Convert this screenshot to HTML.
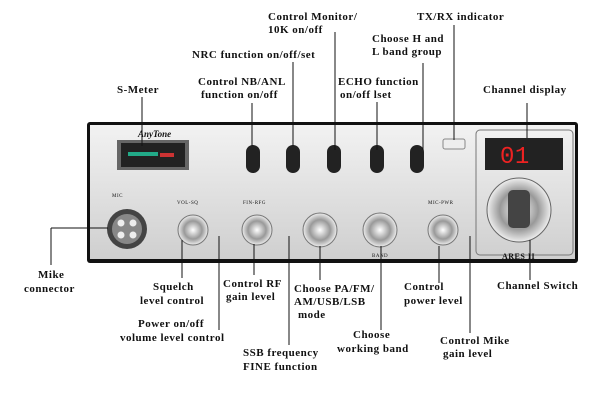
<!DOCTYPE html><html><head><style>body{margin:0;background:#fff}svg text{font-family:"Liberation Serif",serif;font-size:11px;font-weight:bold;letter-spacing:0.5px;fill:#111}</style></head><body>
<svg width="600" height="400" viewBox="0 0 600 400" xmlns="http://www.w3.org/2000/svg">
<defs><linearGradient id="b" x1="0" y1="0" x2="0" y2="1"><stop offset="0" stop-color="#f2f2f2"/><stop offset="1" stop-color="#cfcfcf"/></linearGradient>
<radialGradient id="k"><stop offset="0" stop-color="#fff"/><stop offset=".6" stop-color="#999"/><stop offset="1" stop-color="#eee"/></radialGradient></defs>
<rect x="87" y="122" width="491" height="141" rx="3" fill="#111"/>
<rect x="90" y="125" width="485" height="134" fill="url(#b)"/>
<text x="138" y="137" font-style="italic" style="font-size:9px;letter-spacing:0">AnyTone</text>
<rect x="117" y="140" width="72" height="30" fill="#666"/><rect x="121" y="143" width="64" height="24" fill="#222"/>
<rect x="128" y="152" width="30" height="4" fill="#2a8"/><rect x="160" y="153" width="14" height="4" fill="#c33"/>
<g fill="#222"><rect x="246" y="145" width="14" height="28" rx="7"/><rect x="286" y="145" width="14" height="28" rx="7"/><rect x="327" y="145" width="14" height="28" rx="7"/><rect x="370" y="145" width="14" height="28" rx="7"/><rect x="410" y="145" width="14" height="28" rx="7"/></g>
<rect x="443" y="139" width="22" height="10" rx="2" fill="#eee" stroke="#888"/>
<rect x="476" y="130" width="97" height="125" rx="4" fill="none" stroke="#777"/>
<rect x="485" y="138" width="78" height="32" fill="#222"/><text x="500" y="163" style="font-size:24px;fill:#e22;font-family:'Liberation Mono',monospace;font-weight:normal">01</text>
<circle cx="519" cy="210" r="32" fill="url(#k)" stroke="#666"/><rect x="508" y="190" width="22" height="38" rx="5" fill="#444"/>
<text x="502" y="259" style="font-size:8px">ARES II</text>
<circle cx="127" cy="229" r="20" fill="#444"/><circle cx="127" cy="229" r="15" fill="#888"/>
<g fill="#eee"><circle cx="121" cy="223" r="3.5"/><circle cx="133" cy="223" r="3.5"/><circle cx="121" cy="235" r="3.5"/><circle cx="133" cy="235" r="3.5"/></g>
<g fill="url(#k)" stroke="#777"><circle cx="193" cy="230" r="15"/><circle cx="257" cy="230" r="15"/><circle cx="320" cy="230" r="17"/><circle cx="380" cy="230" r="17"/><circle cx="443" cy="230" r="15"/></g>
<g><text x="177" y="204" style="font-size:5px;font-weight:normal">VOL-SQ</text><text x="243" y="204" style="font-size:5px;font-weight:normal">FIN-RFG</text><text x="428" y="204" style="font-size:5px;font-weight:normal">MIC-PWR</text><text x="112" y="197" style="font-size:5px;font-weight:normal">MIC</text><text x="372" y="257" style="font-size:5px;font-weight:normal">BAND</text></g>
<g stroke="#111" stroke-width="1" fill="none">
<path d="M142 97V146"/><path d="M252 103V146"/><path d="M293 62V146"/><path d="M335 32V150"/><path d="M377 102V150"/><path d="M423 63V150"/><path d="M454 25V140"/><path d="M527 103V138"/>
<path d="M51 228H108"/><path d="M51 228V265"/>
<path d="M182 240V278"/><path d="M219 236V330"/><path d="M254 244V275"/><path d="M289 236V345"/><path d="M320 246V280"/><path d="M381 246V330"/><path d="M439 246V283"/><path d="M470 236V333"/><path d="M530 240V280"/>
</g>
<text x="117" y="93">S-Meter</text>
<text x="198" y="85">Control NB/ANL</text><text x="201" y="98">function on/off</text>
<text x="192" y="58">NRC function on/off/set</text>
<text x="268" y="20">Control Monitor/</text><text x="268" y="33">10K on/off</text>
<text x="338" y="85">ECHO function</text><text x="340" y="98">on/off lset</text>
<text x="372" y="42">Choose H and</text><text x="372" y="55">L band group</text>
<text x="417" y="20">TX/RX indicator</text>
<text x="483" y="93">Channel display</text>
<text x="38" y="278">Mike</text><text x="24" y="292">connector</text>
<text x="153" y="290">Squelch</text><text x="140" y="304">level control</text>
<text x="138" y="327">Power on/off</text><text x="120" y="341">volume level control</text>
<text x="223" y="287">Control RF</text><text x="226" y="300">gain level</text>
<text x="294" y="292">Choose PA/FM/</text><text x="294" y="305">AM/USB/LSB</text><text x="298" y="318">mode</text>
<text x="243" y="356">SSB frequency</text><text x="243" y="370">FINE function</text>
<text x="353" y="338">Choose</text><text x="337" y="352">working band</text>
<text x="404" y="290">Control</text><text x="404" y="304">power level</text>
<text x="440" y="344">Control Mike</text><text x="443" y="357">gain level</text>
<text x="497" y="289">Channel Switch</text>
</svg></body></html>
